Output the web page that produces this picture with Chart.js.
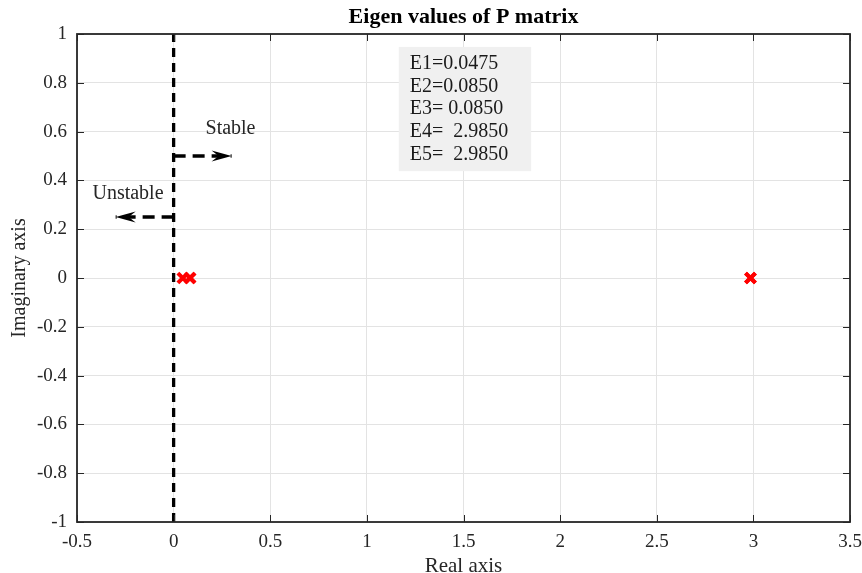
<!DOCTYPE html>
<html>
<head>
<meta charset="utf-8">
<script src="https://cdn.jsdelivr.net/npm/chart.js@4/dist/chart.umd.min.js"></script>
<style>
  html, body { margin: 0; padding: 0; background: #fff; }
  #wrap { width: 862px; height: 573px; }
</style>
</head>
<body>
<div id="wrap"><canvas id="grafico"></canvas></div>
<script>
// valori
const parteReale = [0.0475, 0.085, 0.085, 2.985, 2.985];
const parteImmaginaria = [0, 0, 0, 0, 0];
const etichetteAutovalori = ['E1=0.0475', 'E2=0.0850', 'E3= 0.0850', 'E4=  2.9850', 'E5=  2.9850'];

const confineX = [0, 0];
const confineY = [-1, 1];
const frecciaStabileX = [0, 0.3];
const frecciaStabileY = [0.5, 0.5];
const frecciaInstabileX = [0, -0.3];
const frecciaInstabileY = [0.25, 0.25];

const limitiX = [-0.5, 3.5];
const limitiY = [-1, 1];
const passoX = 0.5;
const passoY = 0.2;

// box del testo (coordinate dati)
const boxX = [1.165, 1.85];
const boxY = [0.947, 0.438];

const FONT = "'Liberation Serif', 'Times New Roman', serif";
const NERO = '#262626';

const toPts = (xs, ys) => xs.map((x, i) => ({ x: x, y: ys[i] }));

const pluginAnnotazioni = {
    id: 'annotazioni',
    afterDatasetsDraw(chart) {
        const { ctx, chartArea: a, scales: { x, y } } = chart;
        ctx.save();

        // frecce
        const punta = (xs, ys) => {
            const x0 = x.getPixelForValue(xs[0]), y0 = y.getPixelForValue(ys[0]);
            const x1 = x.getPixelForValue(xs[1]), y1 = y.getPixelForValue(ys[1]);
            const ang = Math.atan2(y1 - y0, x1 - x0);
            const L = 20, W = 5.5, B = 13;
            ctx.save();
            ctx.translate(x1, y1);
            ctx.rotate(ang);
            ctx.beginPath();
            ctx.moveTo(0, 0);
            ctx.lineTo(-L, -W);
            ctx.lineTo(-B, 0);
            ctx.lineTo(-L, W);
            ctx.closePath();
            ctx.fillStyle = '#000';
            ctx.fill();
            ctx.restore();
        };
        punta(frecciaStabileX, frecciaStabileY);
        punta(frecciaInstabileX, frecciaInstabileY);

        // testo frecce
        ctx.fillStyle = NERO;
        ctx.font = '20px ' + FONT;
        ctx.textBaseline = 'middle';
        ctx.textAlign = 'left';
        ctx.fillText('Stable', x.getPixelForValue(0.165), y.getPixelForValue(0.61));
        ctx.fillText('Unstable', x.getPixelForValue(-0.42), y.getPixelForValue(0.345));

        // box autovalori
        const bx0 = x.getPixelForValue(boxX[0]), bx1 = x.getPixelForValue(boxX[1]);
        const by0 = y.getPixelForValue(boxY[0]), by1 = y.getPixelForValue(boxY[1]);
        ctx.fillStyle = '#f0f0f0';
        ctx.fillRect(bx0, by0, bx1 - bx0, by1 - by0);
        ctx.fillStyle = '#1a1a1a';
        ctx.font = '20px ' + FONT;
        etichetteAutovalori.forEach((t, i) => {
            ctx.fillText(t, bx0 + 11, by0 + 17 + i * 22.6);
        });

        // cornice e tacche interne
        ctx.strokeStyle = NERO;
        ctx.lineWidth = 1.8;
        ctx.strokeRect(a.left, a.top, a.right - a.left, a.bottom - a.top);
        ctx.lineWidth = 1;
        const T = 7;
        x.ticks.forEach(t => {
            const px = Math.round(x.getPixelForValue(t.value)) + 0.5;
            ctx.beginPath();
            ctx.moveTo(px, a.bottom); ctx.lineTo(px, a.bottom - T);
            ctx.moveTo(px, a.top); ctx.lineTo(px, a.top + T);
            ctx.stroke();
        });
        y.ticks.forEach(t => {
            const py = Math.round(y.getPixelForValue(t.value)) + 0.5;
            ctx.beginPath();
            ctx.moveTo(a.left, py); ctx.lineTo(a.left + T, py);
            ctx.moveTo(a.right, py); ctx.lineTo(a.right - T, py);
            ctx.stroke();
        });
        ctx.restore();
    }
};

new Chart(document.getElementById('grafico'), {
    type: 'scatter',
    data: {
        datasets: [
            {
                label: 'Confine',
                data: toPts(confineX, confineY),
                showLine: true,
                borderColor: '#000',
                borderWidth: 3.3,
                borderDash: [9, 6],
                pointRadius: 0
            },
            {
                label: 'Stabile',
                data: toPts(frecciaStabileX, frecciaStabileY),
                showLine: true,
                borderColor: '#000',
                borderWidth: 3.3,
                borderDash: [12, 7],
                pointRadius: 0
            },
            {
                label: 'Instabile',
                data: toPts(frecciaInstabileX, frecciaInstabileY),
                showLine: true,
                borderColor: '#000',
                borderWidth: 3.3,
                borderDash: [12, 7],
                pointRadius: 0
            },
            {
                label: 'Autovalori',
                data: toPts(parteReale, parteImmaginaria),
                showLine: false,
                pointStyle: 'crossRot',
                pointRadius: 7,
                borderColor: '#ff0000',
                backgroundColor: '#ff0000',
                pointBorderWidth: 4
            }
        ]
    },
    options: {
        responsive: true,
        maintainAspectRatio: false,
        animation: false,
        layout: { padding: { left: 0, right: 12, top: 0, bottom: 0 } },
        plugins: {
            legend: { display: false },
            tooltip: { enabled: false }
        },
        scales: {
            x: {
                type: 'linear',
                min: limitiX[0],
                max: limitiX[1],
                afterBuildTicks: s => {
                    const t = [];
                    for (let v = limitiX[0]; v <= limitiX[1] + 1e-9; v += passoX) t.push({ value: +v.toFixed(2) });
                    s.ticks = t;
                },
                afterFit: s => { s.height = 51; s.paddingLeft = 0; s.paddingRight = 0; },
                grid: { color: '#e3e3e3', drawTicks: false, lineWidth: 1 },
                border: { display: false },
                ticks: {
                    color: NERO,
                    padding: 9,
                    font: { family: FONT, size: 19 },
                    callback: v => String(v)
                },
                title: {
                    display: true,
                    text: 'Real axis',
                    color: NERO,
                    font: { family: FONT, size: 21 },
                    padding: { top: 4, bottom: -6 }
                }
            },
            xTop: {
                type: 'linear',
                position: 'top',
                min: limitiX[0],
                max: limitiX[1],
                afterFit: s => { s.height = 34; s.paddingLeft = 0; s.paddingRight = 0; },
                grid: { display: false },
                border: { display: false },
                ticks: { display: false },
                title: {
                    display: true,
                    text: 'Eigen values of P matrix',
                    color: '#000',
                    font: { family: FONT, size: 22, weight: 'bold' },
                    padding: { top: 4, bottom: 0 }
                }
            },
            y: {
                type: 'linear',
                min: limitiY[0],
                max: limitiY[1],
                afterBuildTicks: s => {
                    const t = [];
                    for (let v = limitiY[0]; v <= limitiY[1] + 1e-9; v += passoY) t.push({ value: +v.toFixed(2) });
                    s.ticks = t;
                },
                afterFit: s => { s.width = 77; s.paddingTop = 0; s.paddingBottom = 0; },
                grid: { color: '#e3e3e3', drawTicks: false, lineWidth: 1 },
                border: { display: false },
                ticks: {
                    color: NERO,
                    padding: 10,
                    font: { family: FONT, size: 19 },
                    callback: v => String(v)
                },
                title: {
                    display: true,
                    text: 'Imaginary axis',
                    color: NERO,
                    font: { family: FONT, size: 20 },
                    padding: { top: 8, bottom: 0 }
                }
            }
        }
    },
    plugins: [pluginAnnotazioni]
});
</script>
</body>
</html>
